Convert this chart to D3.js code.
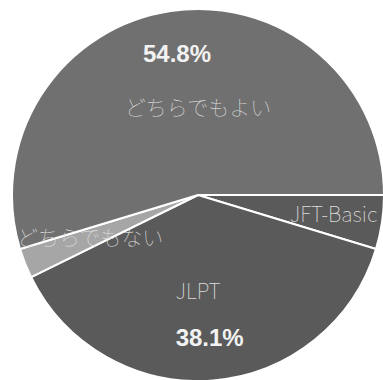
<!DOCTYPE html>
<html>
<head>
<meta charset="utf-8">
<script src="https://cdn.jsdelivr.net/npm/d3@7"></script>
<style>
  html, body { margin: 0; padding: 0; background: #fff; }
  svg { display: block; }
</style>
</head>
<body>
<div class="pieChart"></div>
<script>
// slices in drawing order, clockwise from 3 o'clock
let categories = ['JFT-Basic', 'JLPT', 'どちらでもない', 'どちらでもよい'];
let values = [4.7, 38.1, 2.6, 54.8];
let percentLabels = ['', '38.1%', '', '54.8%'];
let colors = ['#5a5a5a', '#5a5a5a', '#a6a6a6', '#707070'];

function drawPieChart() {
    let width = 383, height = 380;
    let cx = 198, cy = 195, radius = 186;

    let svg = d3.select('.pieChart')
        .append('svg')
        .attr('width', width)
        .attr('height', height);

    let data = categories.map((c, i) => ({name: c, value: values[i], pct: percentLabels[i], color: colors[i]}));

    let pie = d3.pie()
        .sort(null)
        .value(d => d.value)
        .startAngle(Math.PI / 2)
        .endAngle(Math.PI / 2 + 2 * Math.PI);

    let arc = d3.arc().innerRadius(0).outerRadius(radius);
    let arcs = pie(data);

    let g = svg.append('g')
        .attr('transform', 'translate(' + cx + ',' + cy + ')');

    g.selectAll('.slice')
        .data(arcs)
        .enter().append('path')
        .attr('class', 'slice')
        .attr('d', arc)
        .attr('fill', d => d.data.color)
        .attr('stroke', '#fff')
        .attr('stroke-width', 2)
        .attr('stroke-linejoin', 'round');

    // big slices: percent further out, name nearer centre (centred on x)
    // small slices: only the name, out near the rim
    let isBig = d => d.endAngle - d.startAngle > 1;
    let pctArc = d3.arc().innerRadius(143).outerRadius(143);
    let nameArcSmall = d => {
        let r = d.data.value > 4 ? 137 : 116;
        return d3.arc().innerRadius(r).outerRadius(r).centroid(d);
    };

    g.selectAll('.pct')
        .data(arcs.filter(isBig))
        .enter().append('text')
        .attr('class', 'pct')
        .attr('x', d => pctArc.centroid(d)[0])
        .attr('y', d => pctArc.centroid(d)[1])
        .attr('dy', '0.35em')
        .attr('text-anchor', 'middle')
        .style('font-family', '"Liberation Sans", Arial, sans-serif')
        .style('font-weight', 'bold')
        .style('font-size', '24px')
        .style('fill', '#f2f2f2')
        .text(d => d.data.pct);

    g.selectAll('.name')
        .data(arcs)
        .enter().append('text')
        .attr('class', 'name')
        .attr('x', d => isBig(d) ? 0 : nameArcSmall(d)[0])
        .attr('y', d => {
            if (!isBig(d)) return nameArcSmall(d)[1];
            return Math.sign(pctArc.centroid(d)[1]) * 92;
        })
        .attr('dy', d => isBig(d) ? '0.55em' : '0.35em')
        .attr('text-anchor', 'middle')
        .style('font-family', '"Noto Sans CJK JP", "Noto Sans", sans-serif')
        .style('font-weight', 100)
        .style('font-size', '21px')
        .style('fill', '#dcdcdc')
        .text(d => d.data.name);
}

drawPieChart();
</script>
</body>
</html>
